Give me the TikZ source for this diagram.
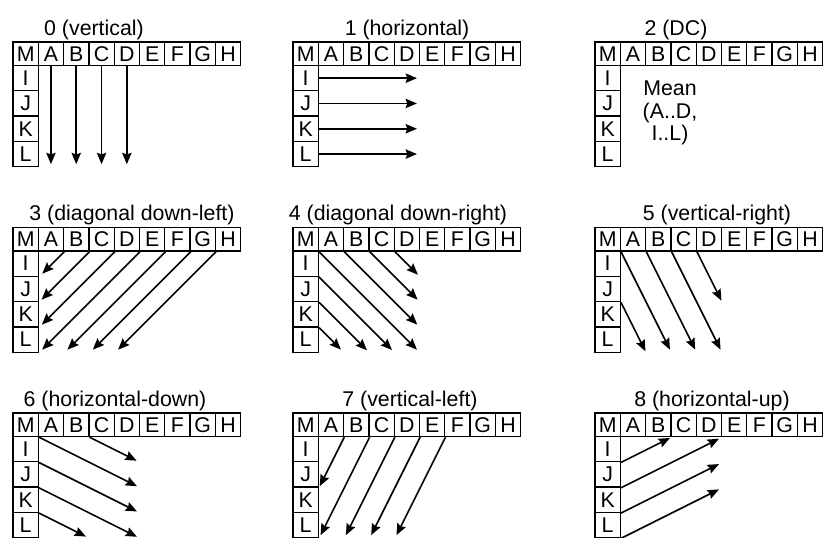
\documentclass[tikz,border=0pt]{standalone}
\usepackage{fontspec}
\setmainfont{Liberation Sans}
\usepackage{tikz}
\usetikzlibrary{arrows.meta,calc}
\newcommand{\predfont}{\fontsize{16}{17}\selectfont}
\tikzset{
  predcell/.style={
    draw=black, line width=1pt, inner sep=0pt,
    minimum width=18.98pt, font=\predfont
  },
  predtop/.style={predcell, minimum height=17.63pt},
  predside/.style={predcell, minimum height=18.98pt},
  predarrow/.style={-{Stealth[length=8.5pt,width=7pt,inset=1.2pt]}, line width=1.2pt},
  predtitle/.style={font=\predfont, anchor=base, inner sep=0pt},
  predmean/.style={font=\predfont, align=center, inner sep=0pt}
}
% one 4x4 block with its neighbours: name, left, top (in px)
\newcommand{\predgrid}[3]{%
  \foreach \lab [count=\i from 0] in {M,A,B,C,D,E,F,G,H}
    \node[predtop] (#1\lab) at ({#2+25.3*\i+12.65},{#3+11.75}) {\lab};
  \foreach \lab [count=\i from 0] in {I,J,K,L}
    \node[predside] (#1\lab) at ({#2+12.65},{#3+23.5+25.3*\i+12.65}) {\lab};
}

\begin{document}
\begin{tikzpicture}[x=0.75pt,y=-0.75pt]
  \useasboundingbox (0,0) rectangle (825,537);
  \clip (0,0) rectangle (825,537);
  % the nine grids
  \predgrid{p0}{13}{42}
  \predgrid{p1}{293}{42}
  \predgrid{p2}{595}{42}
  \predgrid{p3}{13}{227.5}
  \predgrid{p4}{293}{227.5}
  \predgrid{p5}{595}{227.5}
  \predgrid{p6}{13}{413}
  \predgrid{p7}{293}{413}
  \predgrid{p8}{595}{413}
  % titles
  \node[predtitle] (t0) at (94,35) {0 (vertical)};
  \node[predtitle] (t1) at (407,35) {1 (horizontal)};
  \node[predtitle] (t2) at (676,35) {2 (DC)};
  \node[predtitle] (t3) at (132,220.5) {3 (diagonal down-left)};
  \node[predtitle] (t4) at (398,220.5) {4 (diagonal down-right)};
  \node[predtitle] (t5) at (717,220.5) {5 (vertical-right)};
  \node[predtitle] (t6) at (115,406) {6 (horizontal-down)};
  \node[predtitle] (t7) at (410,406) {7 (vertical-left)};
  \node[predtitle] (t8) at (712,406) {8 (horizontal-up)};
  % mode 0
  \foreach \c in {A,B,C,D}
    \draw[predarrow] (p0\c.south) -- ++(0,98);
  % mode 1
  \foreach \c in {I,J,K,L}
    \draw[predarrow] (p1\c.east) -- ++(98,0);
  % mode 2
  \node[predmean] (p2mean) at (670,113) {Mean\\(A..D,\\I..L)};
  % mode 3
  \foreach \c/\d in {A/22,B/48,C/73,D/98,E/98,F/98,G/98}
    \draw[predarrow] (p3\c.south east) -- ++(-\d,\d);
  % mode 4
  \foreach \c/\d in {M/98,A/73,B/48,C/23,I/73,J/48,K/22}
    \draw[predarrow] (p4\c.south east) -- ++(\d,\d);
  % mode 5
  \foreach \c/\d in {M/49,A/49,B/49,C/24.5,J/24.5}
    \draw[predarrow] (p5\c.south east) -- ++(\d,2*\d);
  % mode 6
  \foreach \c/\d in {M/98,I/98,J/98,K/47,B/47}
    \draw[predarrow] (p6\c.south east) -- ++(\d,\d/2);
  % mode 7
  \foreach \c/\d in {A/24.5,B/49,C/49,D/49,E/49}
    \draw[predarrow] (p7\c.south east) -- ++(-\d,2*\d);
  % mode 8
  \foreach \c/\d in {I/49,J/98,K/98,L/98}
    \draw[predarrow] (p8\c.south east) -- ++(\d,-\d/2);
\end{tikzpicture}
\end{document}
